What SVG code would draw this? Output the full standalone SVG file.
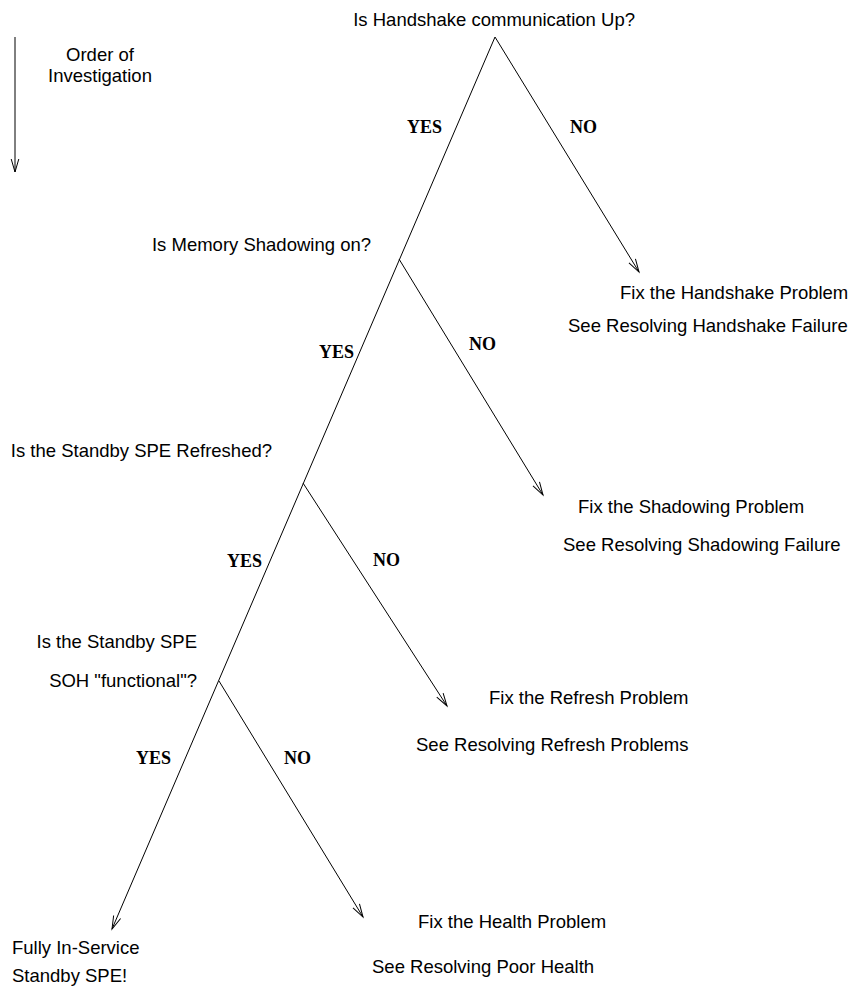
<svg xmlns="http://www.w3.org/2000/svg" width="851" height="987" viewBox="0 0 851 987">
<style>
.t{font-family:"Liberation Sans",Arial,sans-serif;font-size:18.5px;fill:#000}
.b{font-family:"Liberation Serif","Times New Roman",serif;font-size:18px;font-weight:bold;fill:#000}
.c line{stroke:#000;stroke-width:1;fill:none}
</style>
<defs>
<marker id="ah" markerWidth="16" markerHeight="12" refX="0" refY="0" viewBox="-14 -6 16 12" orient="auto" markerUnits="userSpaceOnUse">
<path d="M-13,-3.8 L0,0 L-13,3.8" fill="none" stroke="#000" stroke-width="1"/>
</marker>
</defs>
<rect width="851" height="987" fill="#fff"/>
<g id="connectors" class="c">
<line x1="15" y1="37" x2="15" y2="172" marker-end="url(#ah)"/>
<line x1="495" y1="37" x2="112" y2="929" marker-end="url(#ah)"/>
<line x1="495" y1="37" x2="639" y2="272" marker-end="url(#ah)"/>
<line x1="399" y1="259" x2="543" y2="495" marker-end="url(#ah)"/>
<line x1="303" y1="483" x2="447" y2="706" marker-end="url(#ah)"/>
<line x1="219" y1="681" x2="363" y2="917" marker-end="url(#ah)"/>
</g>
<g id="legend"><text class="t" x="100" y="61" text-anchor="middle">Order of</text><text class="t" x="100" y="82" text-anchor="middle">Investigation</text></g>
<g id="q1"><text class="t" x="635" y="26" text-anchor="end">Is Handshake communication Up?</text></g>
<g id="q2"><text class="t" x="371" y="251" text-anchor="end">Is Memory Shadowing on?</text></g>
<g id="q3"><text class="t" x="272" y="457" text-anchor="end">Is the Standby SPE Refreshed?</text></g>
<g id="q4"><text class="t" x="197" y="648" text-anchor="end">Is the Standby SPE</text><text class="t" x="197" y="687" text-anchor="end">SOH "functional"?</text></g>
<g id="r1"><text class="t" x="620" y="299">Fix the Handshake Problem</text><text class="t" x="568" y="332">See Resolving Handshake Failure</text></g>
<g id="r2"><text class="t" x="578" y="513">Fix the Shadowing Problem</text><text class="t" x="563" y="551">See Resolving Shadowing Failure</text></g>
<g id="r3"><text class="t" x="489" y="704">Fix the Refresh Problem</text><text class="t" x="416" y="751">See Resolving Refresh Problems</text></g>
<g id="r4"><text class="t" x="418" y="928">Fix the Health Problem</text><text class="t" x="372" y="973">See Resolving Poor Health</text></g>
<g id="done"><text class="t" x="12" y="954">Fully In-Service</text><text class="t" x="12" y="982">Standby SPE!</text></g>
<g id="labels">
<text class="b" x="407" y="133">YES</text><text class="b" x="570" y="133">NO</text>
<text class="b" x="319" y="358">YES</text><text class="b" x="469" y="350">NO</text>
<text class="b" x="227" y="567">YES</text><text class="b" x="373" y="566">NO</text>
<text class="b" x="136" y="764">YES</text><text class="b" x="284" y="764">NO</text>
</g>
</svg>
